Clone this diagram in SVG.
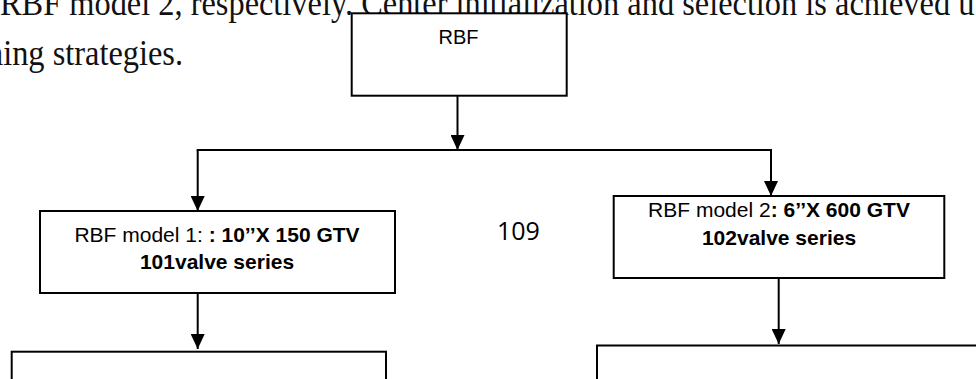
<svg xmlns="http://www.w3.org/2000/svg" width="976" height="379" viewBox="0 0 976 379">
  <style>
    .page { font-family: "Liberation Serif", "Times New Roman", serif; font-size: 32.4px; fill: #111; }
    .box { fill: #fff; stroke: #000; stroke-width: 2; }
    .lbl { font-family: "Liberation Sans", Arial, sans-serif; font-size: 21px; fill: #000; text-anchor: middle; }
    .b { font-weight: bold; }
    .num { font-family: "Open Sans", "Liberation Sans", sans-serif; font-size: 25px; fill: #000; }
    .wire { fill: none; stroke: #000; stroke-width: 2; }
  </style>
  <defs>
    <marker id="arrow" viewBox="0 0 15 14" refX="15" refY="7" markerWidth="15" markerHeight="14" markerUnits="userSpaceOnUse" orient="auto">
      <path d="M0,0 L15,7 L0,14 Z" fill="#000"/>
    </marker>
  </defs>

  <rect width="976" height="379" fill="#fff"/>

  <!-- body text of the page behind the chart -->
  <g id="page-text">
    <g transform="translate(0,14.5) scale(1,1.12)">
      <text class="page" x="0" y="0">RBF model 2, respectively. Center initialization and selection is achieved u</text>
    </g>
    <g transform="translate(-13,65) scale(1,1.12)">
      <text class="page" x="0" y="0">ning strategies.</text>
    </g>
  </g>

  <!-- page number -->
  <text class="num" x="497" y="240">109</text>

  <g id="connectors">
    <line class="wire" x1="457.5" y1="96" x2="457.5" y2="150" marker-end="url(#arrow)"/>
    <line class="wire" x1="196.7" y1="150" x2="772" y2="150"/>
    <line class="wire" x1="197.7" y1="150" x2="197.7" y2="211" marker-end="url(#arrow)"/>
    <line class="wire" x1="771" y1="150" x2="771" y2="196" marker-end="url(#arrow)"/>
    <line class="wire" x1="197.7" y1="293" x2="197.7" y2="349" marker-end="url(#arrow)"/>
    <line class="wire" x1="778.7" y1="278" x2="778.7" y2="344" marker-end="url(#arrow)"/>
  </g>

  <g id="node-rbf">
    <rect class="box" x="351.7" y="13.3" width="215" height="82.4"/>
    <text class="lbl" x="458.5" y="44" style="font-size:20px">RBF</text>
  </g>

  <g id="node-model1">
    <rect class="box" x="40" y="211" width="355" height="82"/>
    <text class="lbl" x="217" y="241.7">RBF model 1: <tspan class="b">: 10’’X 150 GTV</tspan></text>
    <text class="lbl b" x="217" y="269.3">101valve series</text>
  </g>

  <g id="node-model2">
    <rect class="box" x="613.7" y="196" width="330.6" height="82"/>
    <text class="lbl" x="779" y="217.3">RBF model 2<tspan class="b">: 6’’X 600 GTV</tspan></text>
    <text class="lbl b" x="779" y="245">102valve series</text>
  </g>

  <g id="node-model1-next">
    <rect class="box" x="11.7" y="351.7" width="374.3" height="60"/>
  </g>

  <g id="node-model2-next">
    <rect class="box" x="597" y="345.5" width="400" height="60"/>
  </g>
</svg>
